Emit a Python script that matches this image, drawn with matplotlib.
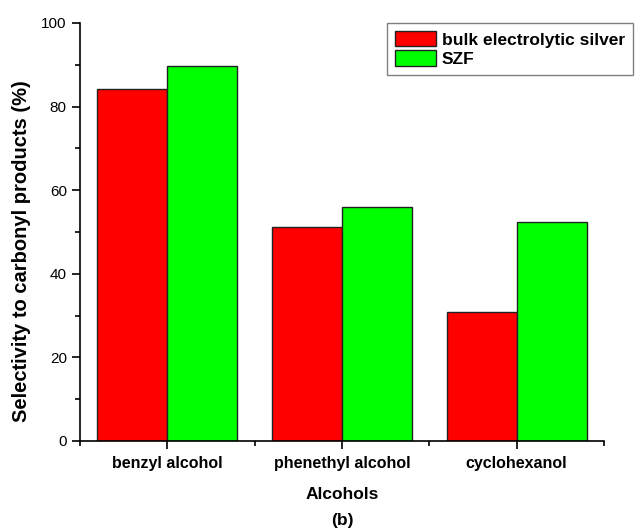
import numpy as np
import matplotlib
matplotlib.use("Agg")
import matplotlib.pyplot as plt
from matplotlib.ticker import MultipleLocator, FixedLocator

plt.rcParams['font.family'] = ['Liberation Sans', 'DejaVu Sans']

# selectivity data (%)
alcohols = ['benzyl alcohol', 'phenethyl alcohol', 'cyclohexanol']
bulk_silver = [84.1, 51.2, 30.9]
szf = [89.6, 56.0, 52.5]
series_names = ['bulk electrolytic silver', 'SZF']

fig = plt.figure(figsize=(6.41, 5.31), dpi=100)
ax = fig.add_axes([0.1248, 0.1695, 0.8175, 0.7872])

x = np.arange(1, len(alcohols) + 1)
w = 0.4
b1 = ax.bar(x - w / 2, bulk_silver, w, color='#ff0000', edgecolor='#222222',
            linewidth=1.0, label=series_names[0])
b2 = ax.bar(x + w / 2, szf, w, color='#00ff00', edgecolor='#222222',
            linewidth=1.0, label=series_names[1])

ax.set_xlim(0.5, 3.5)
ax.set_ylim(0, 100)
ax.set_xticks(x)
ax.set_xticklabels(alcohols, fontsize=11.5, fontweight='bold')
ax.xaxis.set_minor_locator(FixedLocator([0.5, 1.5, 2.5, 3.5]))
ax.yaxis.set_major_locator(MultipleLocator(20))
ax.yaxis.set_minor_locator(MultipleLocator(10))
ax.tick_params(axis='y', labelsize=11)
ax.tick_params(axis='x', pad=5)
ax.tick_params(which='major', direction='out', length=6, width=1.2)
ax.tick_params(which='minor', direction='out', length=3.5, width=1.2)

for s in ['top', 'right']:
    ax.spines[s].set_visible(False)
for s in ['left', 'bottom']:
    ax.spines[s].set_linewidth(1.2)

ax.set_xlabel('Alcohols', fontsize=12.5, fontweight='bold')
ax.xaxis.set_label_coords(0.5, -0.110)
ax.set_ylabel('Selectivity to carbonyl products (%)', fontsize=14.5,
              fontweight='bold')
ax.yaxis.set_label_coords(-0.094, 0.455)

fig.text(0.5336, 1 - 520 / 531, '(b)', ha='center', va='center',
         fontsize=12.5, fontweight='bold')

leg = fig.legend(handles=[b1, b2], loc='upper left',
                 bbox_to_anchor=(387 / 641, 1 - 23 / 531),
                 prop={'size': 12.5, 'weight': 'bold'},
                 fancybox=False, framealpha=1, edgecolor='#808080',
                 handlelength=2.35, handleheight=1.0, handletextpad=0.35,
                 borderpad=0.45, labelspacing=0.15, borderaxespad=0)
leg.get_frame().set_linewidth(1.0)

fig.savefig('out.png', dpi=100)
